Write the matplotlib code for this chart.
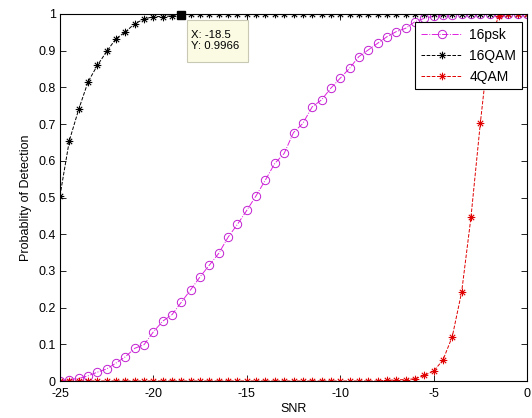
import matplotlib
matplotlib.use('Agg')
import matplotlib.pyplot as plt
from matplotlib.path import Path
from matplotlib.patches import Rectangle

plt.rcParams['font.family'] = ['Liberation Sans', 'DejaVu Sans']

# SNR grid (dB)
snr = [-25, -24.5, -24, -23.5, -23, -22.5, -22, -21.5, -21, -20.5,
       -20, -19.5, -19, -18.5, -18, -17.5, -17, -16.5, -16, -15.5,
       -15, -14.5, -14, -13.5, -13, -12.5, -12, -11.5, -11, -10.5,
       -10, -9.5, -9, -8.5, -8, -7.5, -7, -6.5, -6, -5.5,
       -5, -4.5, -4, -3.5, -3, -2.5, -2, -1.5, -1, -0.5, 0]

pd_16psk = [0.0, 0.004, 0.007, 0.014, 0.024, 0.033, 0.049, 0.066, 0.089, 0.099,
            0.134, 0.163, 0.181, 0.215, 0.249, 0.284, 0.316, 0.348, 0.392, 0.427,
            0.465, 0.505, 0.548, 0.593, 0.620, 0.677, 0.702, 0.747, 0.766, 0.798,
            0.825, 0.852, 0.884, 0.902, 0.920, 0.938, 0.952, 0.961, 0.979, 0.988,
            0.994, 0.997, 0.998, 0.999, 1.0, 1.0, 1.0, 1.0, 1.0, 1.0, 1.0]

pd_16qam = [0.505, 0.655, 0.740, 0.815, 0.860, 0.898, 0.933, 0.951, 0.974, 0.986,
            0.993, 0.993, 0.995, 0.9966, 0.999] + [1.0] * 36

pd_4qam = [0.0] * 35 + [0.002, 0.003, 0.004, 0.006, 0.015, 0.027, 0.057, 0.121,
                        0.242, 0.446, 0.702, 0.93, 0.995, 1.0, 1.0, 1.0]

tip_x = -18.5
tip_y = 0.9966

# matlab-ish asterisk marker (plus + cross)
d = 0.7
ast = Path([(-1, 0), (1, 0), (0, -1), (0, 1), (-d, -d), (d, d), (-d, d), (d, -d)],
           [Path.MOVETO, Path.LINETO] * 4)

fig = plt.figure(figsize=(5.32, 4.18), dpi=100)
ax = fig.add_axes([60/532, 37/418, 467/532, 367/418])

ax.plot(snr, pd_16psk, '-.', color='#e020e0', lw=0.7, marker='o', ms=6,
        mfc='none', mec='#c020d0', mew=0.7, label='16psk')
ax.plot(snr, pd_16qam, '--', color='black', lw=0.7, marker=ast, ms=5.5,
        mew=0.8, label='16QAM')
ax.plot(snr, pd_4qam, '--', color='#e00000', lw=0.7, marker=ast, ms=5.5,
        mew=0.8, mec='#e00000', label='4QAM')

# data tip
ax.plot([tip_x], [tip_y], 's', color='black', ms=5.5, zorder=5, clip_on=False)
ax.add_patch(Rectangle((0.272, 0.869), 0.131, 0.115, transform=ax.transAxes,
                       fc='#fbfbe4', ec='#c8c8b4', lw=0.8, zorder=6, clip_on=False))
ax.text(0.280, 0.927, 'X: -18.5\nY: 0.9966', transform=ax.transAxes, fontsize=8.2,
        ha='left', va='center', linespacing=1.15, zorder=7)

ax.set_xlim(-25, 0)
ax.set_ylim(0, 1)
ax.set_xticks([-25, -20, -15, -10, -5, 0])
ax.set_xticklabels(['-25', '-20', '-15', '-10', '-5', '0'])
ax.set_yticks([i / 10 for i in range(11)])
ax.set_yticklabels(['0', '0.1', '0.2', '0.3', '0.4', '0.5', '0.6', '0.7', '0.8', '0.9', '1'])
ax.tick_params(direction='in', top=True, right=True, length=4, width=0.6,
               labelsize=9)
ax.tick_params(axis='x', pad=5)
ax.tick_params(axis='y', pad=3)
for s in ax.spines.values():
    s.set_linewidth(0.8)

ax.set_xlabel('SNR', fontsize=9, labelpad=2)
ax.set_ylabel('Probablity of Detection', fontsize=9, labelpad=5)

leg = ax.legend(loc='upper right', bbox_to_anchor=(0.989, 0.978), borderaxespad=0,
                fontsize=10, fancybox=False, edgecolor='black', framealpha=1,
                handlelength=3.0, handletextpad=0.5, borderpad=0.4, labelspacing=0.5)
leg.get_frame().set_linewidth(0.8)

fig.savefig('out.png', dpi=100)
